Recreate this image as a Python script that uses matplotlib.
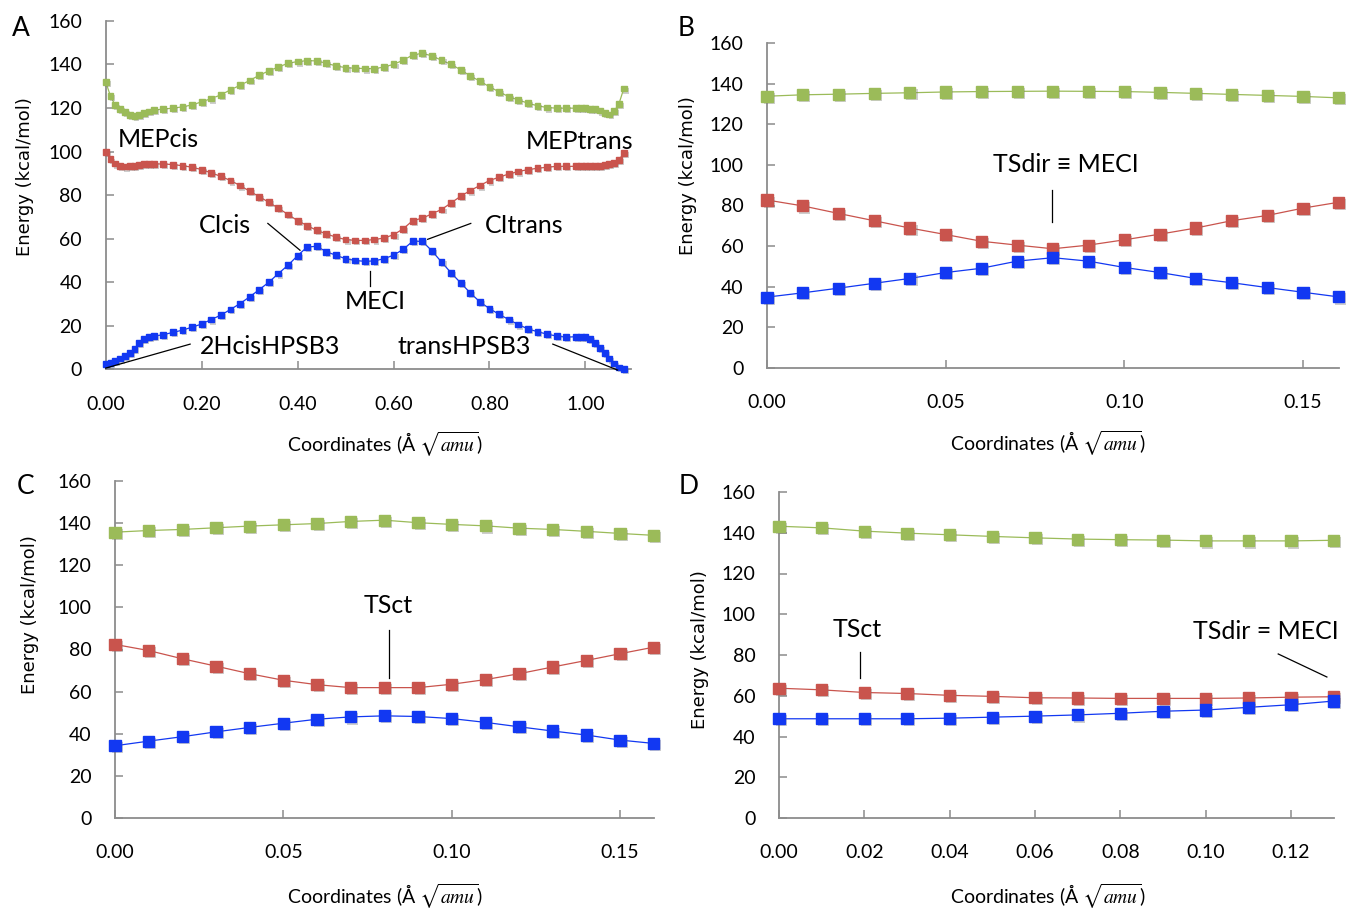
import matplotlib
matplotlib.use("Agg")
import matplotlib.pyplot as plt
import matplotlib.patheffects as pe
import numpy as np

# ---------------- data ----------------
# Panel A (MEP cis / trans)
xA = [0.00, 0.01, 0.02, 0.03, 0.04, 0.05, 0.06, 0.07, 0.08, 0.09, 0.10,
      0.12, 0.14, 0.16, 0.18, 0.20, 0.22, 0.24, 0.26, 0.28, 0.30,
      0.32, 0.34, 0.36, 0.38, 0.40, 0.42, 0.44, 0.46, 0.48, 0.50,
      0.52, 0.54, 0.56, 0.58, 0.60, 0.62, 0.64, 0.66, 0.68, 0.70,
      0.72, 0.74, 0.76, 0.78, 0.80, 0.82, 0.84, 0.86, 0.88, 0.90,
      0.92, 0.94, 0.96, 0.98, 0.99, 1.00, 1.01, 1.02, 1.03, 1.04,
      1.05, 1.06, 1.07, 1.08]
S0_A = [2.3, 3.1, 4.0, 5.0, 6.2, 7.4, 9.5, 12.2, 14.0, 15.0, 15.3,
        15.9, 17.0, 18.0, 19.4, 20.8, 22.9, 24.9, 27.5, 30.2, 33.3,
        36.6, 40.0, 44.0, 47.8, 52.2, 56.2, 56.5, 54.0, 52.4, 50.8,
        50.0, 49.6, 49.8, 50.8, 52.4, 55.1, 58.8, 58.8, 54.4, 49.3,
        44.3, 39.7, 35.1, 31.0, 27.9, 25.3, 22.9, 20.6, 18.6, 17.3,
        16.2, 15.3, 14.8, 15.0, 15.0, 14.7, 13.8, 12.3, 10.0, 7.5,
        5.0, 2.7, 0.9, 0.0]
S1_A = [99.6, 96.4, 94.5, 93.5, 93.1, 93.2, 93.5, 93.9, 94.2, 94.3, 94.3,
        94.3, 94.0, 93.5, 92.8, 91.7, 90.2, 88.6, 86.7, 84.4, 81.8,
        79.3, 76.7, 74.0, 71.1, 68.3, 66.0, 63.8, 62.2, 60.7, 59.6,
        59.2, 59.2, 59.6, 60.3, 61.8, 64.5, 68.3, 69.4, 71.4, 73.4,
        76.4, 79.5, 82.1, 84.4, 86.7, 88.2, 89.7, 90.8, 91.7, 92.3,
        92.8, 93.2, 93.2, 93.2, 93.2, 93.2, 93.2, 93.3, 93.5, 93.8,
        94.3, 94.9, 96.3, 99.2]
S2_A = [132.0, 125.4, 121.2, 119.5, 118.0, 116.9, 116.4, 116.7, 117.6, 118.4, 119.0,
        119.5, 119.9, 120.5, 121.4, 122.8, 124.3, 126.0, 128.3, 130.4, 132.6,
        135.0, 137.0, 138.8, 140.5, 141.3, 141.7, 141.6, 140.5, 139.3, 138.5,
        138.2, 138.1, 138.0, 138.8, 140.0, 141.9, 144.3, 145.1, 143.9, 141.9,
        140.0, 137.5, 134.7, 132.3, 129.7, 127.4, 125.2, 123.7, 122.2, 121.0,
        120.2, 119.9, 119.9, 119.9, 119.9, 119.9, 119.7, 119.4, 118.8, 117.6,
        117.0, 118.5, 122.0, 128.9]

# Panel B (TSdir = MECI scan)
xB = [0.00, 0.01, 0.02, 0.03, 0.04, 0.05, 0.06, 0.07, 0.08,
      0.09, 0.10, 0.11, 0.12, 0.13, 0.14, 0.15, 0.16]
S0_B = [34.9, 37.0, 39.3, 41.7, 44.1, 47.0, 49.1, 52.6, 54.3,
        52.6, 49.5, 47.0, 44.1, 42.0, 39.6, 37.3, 35.0]
S1_B = [82.7, 79.8, 76.1, 72.5, 68.9, 65.7, 62.4, 60.5, 58.7,
        60.5, 63.1, 65.9, 68.9, 72.5, 75.1, 78.7, 81.6]
S2_B = [133.8, 134.5, 134.8, 135.2, 135.5, 135.9, 136.1, 136.2, 136.3,
        136.2, 136.1, 135.7, 135.2, 134.7, 134.2, 133.7, 133.0]

# Panel C (TSct scan)
xC = [0.00, 0.01, 0.02, 0.03, 0.04, 0.05, 0.06, 0.07, 0.08,
      0.09, 0.10, 0.11, 0.12, 0.13, 0.14, 0.15, 0.16]
S0_C = [34.3, 36.5, 38.6, 40.9, 43.0, 45.0, 46.9, 48.0, 48.5,
        48.2, 47.2, 45.4, 43.3, 41.3, 39.4, 37.0, 35.4]
S1_C = [82.4, 79.5, 75.6, 72.1, 68.5, 65.4, 63.3, 61.9, 61.9,
        61.9, 63.5, 65.7, 68.5, 71.7, 74.8, 78.0, 81.1]
S2_C = [135.7, 136.5, 137.0, 137.8, 138.6, 139.2, 139.8, 140.8, 141.4,
        140.2, 139.4, 138.7, 137.6, 137.0, 136.1, 135.1, 134.2]

# Panel D (TSct -> TSdir scan)
xD = [0.00, 0.01, 0.02, 0.03, 0.04, 0.05, 0.06,
      0.07, 0.08, 0.09, 0.10, 0.11, 0.12, 0.13]
S0_D = [48.7, 48.7, 48.7, 48.7, 49.0, 49.5, 50.0,
        50.6, 51.4, 52.4, 53.0, 54.3, 55.6, 57.4]
S1_D = [63.7, 62.9, 61.6, 61.1, 60.2, 59.7, 59.0,
        58.9, 58.7, 58.7, 58.7, 58.9, 59.3, 59.5]
S2_D = [143.2, 142.4, 140.8, 139.8, 139.0, 138.2, 137.5,
        136.9, 136.6, 136.4, 136.0, 136.0, 136.0, 136.3]

y_ticks = [0, 20, 40, 60, 80, 100, 120, 140, 160]
xticks_A = [0.0, 0.2, 0.4, 0.6, 0.8, 1.0]
xticks_BC = [0.0, 0.05, 0.10, 0.15]
xticks_D = [0.0, 0.02, 0.04, 0.06, 0.08, 0.10, 0.12]

# ---------------- style ----------------
W, H = 1353, 909
plt.rcParams['font.family'] = ['Lato', 'DejaVu Sans']
plt.rcParams['mathtext.fontset'] = 'stix'
C_BLUE = '#1238F2'
C_RED = '#C9544D'
C_GREEN = '#9BBB59'
SPINE = '#8C8C8C'

fig = plt.figure(figsize=(W / 100, H / 100), dpi=100)


def fx(px):
    return px / W


def fy(py):
    return 1 - py / H


def make_ax(left, right, top, bottom):
    return fig.add_axes([fx(left), fy(bottom), fx(right) - fx(left), fy(top) - fy(bottom)])


shadow = [pe.SimplePatchShadow(offset=(1.5, -1.5), shadow_rgbFace='0.45', alpha=0.35), pe.Normal()]


def style(ax, xlim, xticks):
    ax.set_xlim(*xlim)
    ax.set_ylim(0, 160)
    ax.set_yticks(y_ticks)
    ax.set_xticks(xticks)
    ax.set_xticklabels([f"{t:.2f}" for t in xticks])
    for s in ['top', 'right']:
        ax.spines[s].set_visible(False)
    for s in ['left', 'bottom']:
        ax.spines[s].set_color(SPINE)
        ax.spines[s].set_linewidth(1.3)
    ax.tick_params(axis='both', direction='in', length=6, width=1.1, color=SPINE,
                   labelsize=14, labelcolor='black')
    ax.tick_params(axis='y', pad=17)
    ax.tick_params(axis='x', pad=19)
    ax.patch.set_alpha(0)


def plot_series(ax, x, ys, ms, lw):
    for y, c in zip(ys, [C_GREEN, C_RED, C_BLUE]):
        ax.plot(x, y, color=c, lw=lw, clip_on=False, zorder=3)
        ax.plot(x, y, ls='none', marker='s', ms=ms, mec=c, mfc=c,
                clip_on=False, path_effects=shadow, zorder=3)


def line(ax, x0, y0, x1, y1):
    ax.plot([x0, x1], [y0, y1], color='black', lw=0.9, clip_on=False, zorder=4)


ylab_kw = dict(rotation=90, ha='center', va='center', fontsize=13, family='DejaVu Sans')
xlab = r"Coordinates (Å $\sqrt{amu}$)"
xlab_kw = dict(ha='center', va='center', fontsize=14)
ann_kw = dict(fontsize=18, color='black', va='center')

# ---------------- Panel A ----------------
axA = make_ax(105.7, 631, 20.8, 369.4)
plot_series(axA, xA, [S2_A, S1_A, S0_A], ms=4.2, lw=0.9)
style(axA, (0, 1.095), xticks_A)
axA.text(0.026, 105.5, "MEPcis", ha='left', **ann_kw)
axA.text(0.875, 104.5, "MEPtrans", ha='left', **ann_kw)
axA.text(0.249, 66.0, "CIcis", ha='center', **ann_kw)
line(axA, 0.338, 67.0, 0.405, 54.7)
axA.text(0.79, 66.0, "CItrans", ha='left', **ann_kw)
line(axA, 0.671, 59.7, 0.761, 67.0)
axA.text(0.561, 31.3, "MECI", ha='center', **ann_kw)
line(axA, 0.551, 45.0, 0.551, 38.2)
axA.text(0.196, 10.6, "2HcisHPSB3", ha='left', **ann_kw)
line(axA, 0.176, 11.6, 0.0, 0.6)
axA.text(0.609, 10.6, "transHPSB3", ha='left', **ann_kw)
line(axA, 0.932, 11.6, 1.067, -0.3)

# ---------------- Panel B ----------------
axB = make_ax(767, 1338.7, 43, 368)
plot_series(axB, xB, [S2_B, S1_B, S0_B], ms=8, lw=0.9)
style(axB, (0, 0.16), xticks_BC)
axB.text(0.0837, 100.4, "TSdir \u2261 MECI", ha='center', **ann_kw)
line(axB, 0.0798, 87.6, 0.0798, 71.9)

# ---------------- Panel C ----------------
axC = make_ax(115, 653.7, 481, 818)
plot_series(axC, xC, [S2_C, S1_C, S0_C], ms=8, lw=0.9)
style(axC, (0, 0.16), xticks_BC)
axC.text(0.081, 100.7, "TSct", ha='center', **ann_kw)
line(axC, 0.0814, 89.3, 0.0814, 66.5)

# ---------------- Panel D ----------------
axD = make_ax(779, 1333.7, 492, 818)
plot_series(axD, xD, [S2_D, S1_D, S0_D], ms=8, lw=0.9)
style(axD, (0, 0.13), xticks_D)
axD.text(0.0183, 92.3, "TSct", ha='center', **ann_kw)
line(axD, 0.019, 81.5, 0.019, 68.7)
axD.text(0.097, 91.3, "TSdir = MECI", ha='left', **ann_kw)
line(axD, 0.117, 80.5, 0.1284, 69.2)

# ---------------- labels ----------------
for (lx, ly, txt) in [(21, 29, "A"), (686, 28, "B"), (26, 486, "C"), (689, 486, "D")]:
    fig.text(fx(lx), fy(ly), txt, fontsize=19, ha='center', va='center')

for (lx, ly) in [(25, 177), (688, 176), (30, 615), (700, 650)]:
    fig.text(fx(lx), fy(ly), "Energy (kcal/mol)", **ylab_kw)

for (lx, ly) in [(385, 444), (1048, 443), (385, 896), (1048, 896)]:
    fig.text(fx(lx), fy(ly), xlab, **xlab_kw)

fig.savefig("out.png", dpi=100)
